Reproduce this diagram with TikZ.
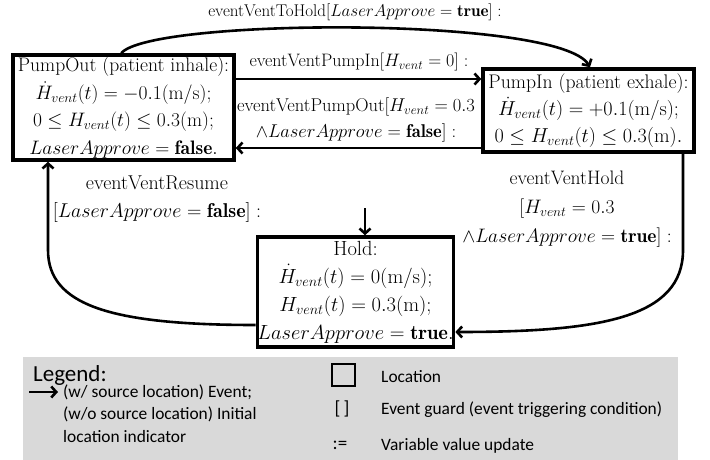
\documentclass[tikz,border=0pt]{standalone}
\usepackage{fix-cm}
\usepackage{fontspec}
\newfontfamily\legendfont{Carlito}
\usetikzlibrary{arrows.meta}
\definecolor{legendgray}{HTML}{D9D9D9}
\begin{document}
\begin{tikzpicture}[x=1pt,y=-1pt,
  loc/.style={draw, line width=3.5pt, align=center, inner sep=0pt, font=\fontsize{19.5}{27.5}\selectfont},
  lbl/.style={align=center, inner sep=0pt, font=\fontsize{19}{28}\selectfont},
  conn/.style={line width=2.6pt, -{Straight Barb[length=5pt,width=11pt]}},
  legtxt/.style={anchor=base west, inner sep=0pt, font=\legendfont\fontsize{17.4}{22.5}\selectfont, align=left},
]
\useasboundingbox (0,0) rectangle (710,460);
% legend background
\node[fill=legendgray, minimum width=655pt, minimum height=104pt, anchor=north west, inner sep=0pt] (legend) at (23,357) {};

% locations
\node[loc, minimum width=221pt, minimum height=105pt] (po) at (123.5,107.5)
  {{\fontsize{19.6}{27.5}\selectfont PumpOut (patient inhale):}\\
   $\dot{H}_{vent}(t)=-0.1(\mathrm{m/s});$\\
   $0\leq H_{vent}(t)\leq 0.3(\mathrm{m});$\\
   $LaserApprove=\mathbf{false}.$};
\node[loc, minimum width=211pt, minimum height=83pt, font=\fontsize{20.2}{27}\selectfont] (pi) at (588.5,110.5)
  {{\fontsize{19.7}{27}\selectfont PumpIn (patient exhale):}\\
   $\dot{H}_{vent}(t)=+0.1(\mathrm{m/s});$\\
   $0\leq H_{vent}(t)\leq 0.3(\mathrm{m}).$};
\node[loc, minimum width=195pt, minimum height=110pt, font=\fontsize{20.5}{28}\selectfont] (hold) at (355.5,292)
  {Hold:\\
   $\dot{H}_{vent}(t)=0(\mathrm{m/s});$\\
   $H_{vent}(t)=0.3(\mathrm{m});$\\
   $LaserApprove=\mathbf{true}.$};

% labels
\node[lbl, font=\fontsize{17}{20}\selectfont] (l1) at (355,12) {eventVentToHold$[LaserApprove=\mathbf{true}]:$};
\node[lbl, font=\fontsize{18}{20}\selectfont] (l2) at (359,62) {eventVentPumpIn$[H_{vent}=0]:$};
\node[lbl, font=\fontsize{18.5}{26}\selectfont] (l3) at (356,120) {eventVentPumpOut$[H_{vent}=0.3$\\$\wedge LaserApprove=\mathbf{false}]:$};
\node[lbl, font=\fontsize{19.5}{29}\selectfont] (l4) at (567,209) {eventVentHold\\$[H_{vent}=0.3$\\$\wedge LaserApprove=\mathbf{true}]:$};
\node[lbl, font=\fontsize{20}{28}\selectfont] (l5) at (157,199) {eventVentResume\\$[LaserApprove=\mathbf{false}]:$};

% connectors
\draw[conn] ([xshift=110pt]po.north west) .. controls (150,18) and (560,16) .. (pi.north -| 590,0);
\draw[conn] (po.east |- 0,79) -- (pi.west |- 0,79);
\draw[conn] (pi.west |- 0,148) -- (po.east |- 0,148);
\draw[conn] (pi.south -| 683,0) -- (683,250) .. controls (683,318) and (600,332) .. (hold.east |- 0,332);
\draw[conn] (hold.west |- 0,325) .. controls (110,325) and (48,305) .. (48,250) -- (po.south -| 48,0);
\coordinate (init) at (365,208);
\draw[conn] (init) -- (hold.north -| 365,0);

% legend content
\node[anchor=base west, inner sep=0pt, font=\legendfont\fontsize{23}{26}\selectfont] (legtitle) at (33,381) {Legend:};
\coordinate (legA) at (29,392);
\coordinate (legB) at (58,392);
\draw[conn] (legA) -- (legB);
\node[legtxt] (legev) at (63,442) {(w/ source location) Event;\\(w/o source location) Initial\\location indicator};
\node[draw, line width=1.8pt, minimum width=23pt, minimum height=22pt, inner sep=0pt] (legsq) at (343.5,375) {};
\node[legtxt] (legloc) at (381,382) {Location};
\node[anchor=base, inner sep=0pt, font=\legendfont\fontsize{19}{20}\selectfont] (legbr) at (342,414) {[\,]};
\node[legtxt] (legguard) at (381,414) {Event guard (event triggering condition)};
\node[anchor=base, inner sep=0pt, font=\legendfont\fontsize{19}{20}\selectfont] (legas) at (340,449) {:=};
\node[legtxt] (legupd) at (381,450) {Variable value update};
\end{tikzpicture}
\end{document}
